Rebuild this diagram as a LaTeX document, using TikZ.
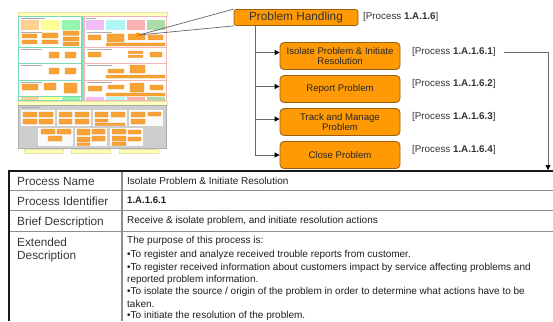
\documentclass[tikz,border=0pt]{standalone}
\usepackage{fontspec}
\setmainfont{Liberation Sans}
\usetikzlibrary{arrows.meta}

\definecolor{procorange}{HTML}{FF9A05}
\definecolor{procedge}{HTML}{9A5E10}
\definecolor{thumborange}{HTML}{F99A22}
\definecolor{thumbedge}{HTML}{D9892A}
\definecolor{paleyellow}{HTML}{FFFFB8}
\definecolor{yellowedge}{HTML}{E2E2A6}
\definecolor{teal}{HTML}{6AD9AE}
\definecolor{rose}{HTML}{F2AEAE}
\definecolor{hdorange}{HTML}{FFCB85}
\definecolor{hdyellow}{HTML}{FFFF8A}
\definecolor{hdgreen}{HTML}{8AF7A2}
\definecolor{hdlilac}{HTML}{F0B6F6}
\definecolor{hdcyan}{HTML}{A8F6F6}
\definecolor{hdpink}{HTML}{F9A8A8}
\definecolor{hdleaf}{HTML}{A0D9A0}
\definecolor{panelgray}{HTML}{C9C9C9}
\definecolor{connector}{HTML}{666666}
\definecolor{rowline}{HTML}{8E8E8E}

% small orange process box of the overview map: corners (x1,y1) (x2,y2)
\newcommand\ThumbBox[4]{\filldraw[tb] (#1,#2) rectangle (#3,#4);}
% faint text stroke of the overview map
\newcommand\ThumbText[3]{\draw[ttxt] (#1,#3) -- (#2,#3);}

\begin{document}
\begin{tikzpicture}[x=1pt,y=-1pt,
  tb/.style={fill=thumborange,draw=thumbedge,line width=0.3pt,rounded corners=0.6pt},
  ttxt/.style={draw=black!35,line width=0.5pt},
  proc/.style={draw=procedge,fill=procorange,rounded corners=4pt,line width=0.8pt,
    minimum width=120pt,minimum height=27pt,align=center,inner sep=1pt,
    font=\fontsize{9.6}{10.6}\selectfont,text=black!85},
  top/.style={draw=procedge,fill=procorange,rounded corners=2.5pt,line width=0.8pt,
    minimum width=124pt,minimum height=16pt,inner sep=0pt,
    font=\fontsize{11.8}{13}\selectfont,text=black!80},
  plabel/.style={anchor=west,inner sep=0pt,font=\fontsize{9.8}{12}\selectfont,text=black!80},
  conn/.style={draw=connector,line width=0.8pt},
  tip/.style={-{Triangle[length=5pt,width=5pt,color=black]}},
  lhead/.style={anchor=west,inner sep=0pt,font=\fontsize{11.8}{14}\selectfont,text=black!78},
  rtext/.style={anchor=west,inner sep=0pt,font=\fontsize{10}{11}\selectfont,text=black!88},
]
\useasboundingbox (0,0) rectangle (553,321);
\fill[white] (0,0) rectangle (553,321);

% ---------------- overview map ----------------
\begin{scope}[opacity=0.9]
% top title bar
\filldraw[fill=paleyellow,draw=yellowedge,line width=0.5pt] (18,12) rectangle (167,16);
% left panel
\filldraw[fill=white,draw=teal,line width=1.2pt] (18.5,16.5) rectangle (82,100.5);
\ThumbText{21}{45}{18.5}
\fill[hdorange] (21,20) rectangle (39,30);
\fill[hdyellow] (41,20) rectangle (60,30);
\fill[hdgreen] (62,20) rectangle (80,30);
\foreach \y in {47,63,80}{\draw[teal,line width=0.8pt] (19,\y) -- (81.5,\y);}
\foreach \y in {96.5}{\draw[teal,line width=0.5pt] (19,\y) -- (81.5,\y);}
\fill[hdorange] (21,97) rectangle (39,100);
\fill[hdyellow] (41,97) rectangle (60,100);
\fill[hdgreen] (62,97) rectangle (80,100);
\foreach \y in {32,49,65,82}{\ThumbText{21}{42}{\y}}
% left panel process boxes
\ThumbBox{22}{34}{37}{38}\ThumbBox{22}{40}{37}{44}
\ThumbBox{42}{33}{58}{38}\ThumbBox{42}{40}{58}{44}
\ThumbBox{63}{31}{79}{35.5}\ThumbBox{63}{37}{79}{41}\ThumbBox{63}{42}{79}{46}
\ThumbBox{49}{52}{59}{58}\ThumbBox{65}{52}{76}{58}
\ThumbBox{49}{68}{59}{74}\ThumbBox{65}{68}{76}{74}
\ThumbBox{22}{84}{38}{90}\ThumbBox{44}{83}{56}{90}\ThumbBox{64}{83}{77}{93}
% right panel
\filldraw[fill=white,draw=rose,line width=1.2pt] (84,16.5) rectangle (166.5,100.5);
\ThumbText{86}{96}{18.5}
\fill[hdlilac] (86,20) rectangle (104,30);
\fill[hdcyan] (106,20) rectangle (125,30);
\fill[hdpink] (127,20) rectangle (145,30);
\fill[hdleaf] (147,20) rectangle (165,30);
\foreach \y in {47,63,80}{\draw[rose,line width=0.8pt] (84.5,\y) -- (166,\y);}
\fill[hdlilac] (86,97) rectangle (104,100);
\fill[hdcyan] (106,97) rectangle (125,100);
\fill[hdpink] (127,97) rectangle (145,100);
\fill[hdleaf] (147,97) rectangle (165,100);
\foreach \y in {32,49,65,82}{\ThumbText{87}{112}{\y}}
% right panel process boxes
\ThumbBox{88}{35}{101}{40}\ThumbBox{107}{34}{124}{42}\ThumbBox{128}{34}{145}{40}\ThumbBox{148}{35}{163}{40}
\ThumbBox{106}{43}{165}{46}
\ThumbBox{88}{52}{101}{57}\ThumbBox{128}{51}{143}{53.5}\ThumbBox{128}{55}{143}{57.5}\ThumbBox{150}{52}{162}{57}
\ThumbBox{108}{69}{124}{73}\ThumbBox{130}{65}{145}{73}
\ThumbBox{106}{75}{165}{78}
\ThumbBox{88}{86}{102}{91}\ThumbBox{108}{85}{124}{89}\ThumbBox{130}{83}{144}{92}\ThumbBox{150}{85}{163}{90}
\ThumbBox{106}{93}{165}{96}
% middle bar
\filldraw[fill=paleyellow,draw=yellowedge,line width=0.5pt] (18,101) rectangle (167,105);
% lower panel
\filldraw[fill=panelgray,draw=black!35,line width=0.6pt] (18.5,105.5) rectangle (166.5,148);
\ThumbText{21}{40}{107.5}
\foreach \xa/\xb in {21/55,57/91,93/127,129/163}{\fill[white] (\xa,110) rectangle (\xb,126);}
\foreach \xa/\xb in {38/73,75/107,110/143}{\fill[white] (\xa,128) rectangle (\xb,146);}
\ThumbBox{23}{112}{37}{117}\ThumbBox{39}{112}{53}{117}\ThumbBox{23}{119}{37}{124}\ThumbBox{39}{119}{53}{124}
\ThumbBox{59}{112}{72}{117}\ThumbBox{75}{112}{89}{117}\ThumbBox{59}{119}{72}{124}\ThumbBox{75}{119}{89}{124}
\ThumbBox{95}{112}{108}{117}\ThumbBox{111}{112}{125}{117}\ThumbBox{95}{119}{108}{122}\ThumbBox{95}{123}{125}{125.5}
\ThumbBox{131}{112}{145}{117}\ThumbBox{148}{112}{161}{116}\ThumbBox{131}{119}{145}{124}
\ThumbBox{41}{129}{55}{134}\ThumbBox{57}{129}{71}{134}\ThumbBox{48}{136}{62}{141}
\ThumbBox{77}{129}{90}{135}\ThumbBox{92}{129}{105}{134}\ThumbBox{77}{137}{90}{142}\ThumbBox{92}{136}{105}{141}\ThumbBox{77}{143}{90}{145.5}
\ThumbBox{112}{129}{126}{134}\ThumbBox{128}{130}{141}{134}\ThumbBox{112}{136}{126}{141}\ThumbBox{128}{137}{141}{141}\ThumbBox{112}{142}{126}{145.5}
% bottom labels
\foreach \xa/\xb in {24/63,71/110,119/158}{
  \filldraw[fill=hdyellow!70,draw=yellowedge,line width=0.4pt] (\xa,149) rectangle (\xb,153.5);}
\end{scope}
% highlighted element of the map
\fill[procorange] (138,35) circle (2.6pt);
\coordinate (mapspot) at (139,35);

% ---------------- process hierarchy ----------------
\node[top] (ph) at (296,17.5) {Problem Handling};
\node[plabel,font=\fontsize{9.8}{12}\selectfont] (phl) at (363,17) {[Process \textbf{1.A.1.6}]};

\draw[connector,line width=0.7pt] (mapspot) -- (ph.north west);
\draw[connector,line width=0.7pt] (mapspot) -- (ph.south west);

\node[proc] (c1) at (340,56) {Isolate Problem \& Initiate\\Resolution};
\node[proc] (c2) at (340,89) {Report Problem};
\node[proc] (c3) at (340,122) {Track and Manage\\Problem};
\node[proc] (c4) at (340,155) {Close Problem};

\node[plabel] (l1) at (412,52) {[Process \textbf{1.A.1.6.1}]};
\node[plabel] (l2) at (412,84) {[Process \textbf{1.A.1.6.2}]};
\node[plabel] (l3) at (412,117) {[Process \textbf{1.A.1.6.3}]};
\node[plabel] (l4) at (412,150) {[Process \textbf{1.A.1.6.4}]};

\coordinate (trunk) at (255,25.5);
\draw[conn,tip] (trunk) |- ([yshift=3.5pt]c1.west);
\draw[conn,tip] (trunk) |- ([yshift=2.5pt]c2.west);
\draw[conn,tip] (trunk) |- ([yshift=3pt]c3.west);
\draw[conn,tip] (trunk) |- (c4.west);

\coordinate (tabletop) at (548,170);
\draw[conn,tip] (l1.east) ++(8,0) -| (tabletop);

% ---------------- process description table ----------------
\draw[rowline,line width=1.1pt] (10,190.5) -- (553,190.5);
\draw[rowline,line width=1.1pt] (10,210.5) -- (553,210.5);
\draw[rowline,line width=1.1pt] (10,231.5) -- (553,231.5);
\draw[rowline,line width=1.1pt] (122,172) -- (122,321);
\draw[black!90,line width=2pt] (8,171) -- (553,171);
\draw[black!90,line width=2pt] (9,170) -- (9,321);

\node[lhead] (hname) at (17,181) {Process Name};
\node[lhead] (hid) at (17,201) {Process Identifier};
\node[lhead] (hbrief) at (17,222) {Brief Description};
\node[lhead] (hext1) at (17,242) {Extended};
\node[lhead] (hext2) at (17,256) {Description};

\node[rtext] (vname) at (127,181) {Isolate Problem \& Initiate Resolution};
\node[rtext,font=\fontsize{9.6}{11}\selectfont\bfseries] (vid) at (127,200.5) {1.A.1.6.1};
\node[rtext] (vbrief) at (127,221) {Receive \& isolate problem, and initiate resolution actions};
\node[rtext] (e1) at (127,241) {The purpose of this process is:};
\node[rtext] (e2) at (127,254.5) {•To register and analyze received trouble reports from customer.};
\node[rtext] (e3) at (127,268) {•To register received information about customers impact by service affecting problems and};
\node[rtext] (e4) at (127,279.5) {reported problem information.};
\node[rtext] (e5) at (127,292) {•To isolate the source / origin of the problem in order to determine what actions have to be};
\node[rtext] (e6) at (127,303.5) {taken.};
\node[rtext] (e7) at (127,316) {•To initiate the resolution of the problem.};
\end{tikzpicture}
\end{document}
